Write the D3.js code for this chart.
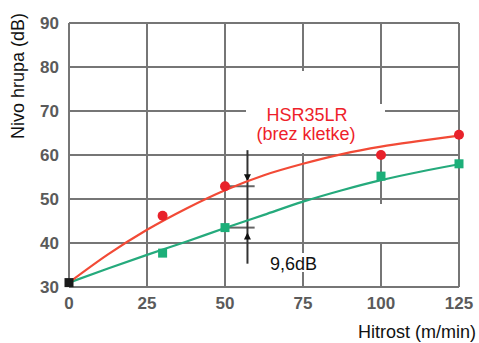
<!DOCTYPE html>
<html>
<head>
<meta charset="utf-8">
<script src="https://d3js.org/d3.v7.min.js"></script>
<style>
  body { margin: 0; background: #fff; }
  text { font-family: "Liberation Sans", Arial, sans-serif; }
</style>
</head>
<body>
<div id="chart"></div>
<script>

// data
var speedTicks = [0, 25, 50, 75, 100, 125];
var levelTicks = [30, 40, 50, 60, 70, 80, 90];

// measured points
var measX      = [30, 50, 100, 125];
var redMeasY   = [46.2, 52.9, 60.0, 64.6];
var greenMeasY = [37.7, 43.5, 55.2, 58.0];
var startPoint = [0, 31];

// fitted curves
var fitX     = [0, 12.5, 25, 37.5, 50, 62.5, 75, 87.5, 100, 112.5, 125];
var redFit   = [31, 37.4, 43.0, 47.8, 52.0, 55.4, 58.0, 60.2, 61.9, 63.2, 64.4];
var greenFit = [31, 34.2, 37.3, 40.3, 43.4, 46.4, 49.4, 52.0, 54.3, 56.2, 57.9];

var width = 479, height = 343;

var svg = d3.select("#chart")
  .append("svg")
    .attr("width", width)
    .attr("height", height);

var x = d3.scaleLinear().domain([0, 125]).range([69, 459]);
var y = d3.scaleLinear().domain([30, 90]).range([287, 23]);

var gridColor = "#767676";

// grid
svg.append("g").selectAll("line.h").data(levelTicks)
  .enter().append("line")
    .attr("x1", x(0)).attr("x2", x(125))
    .attr("y1", function(d) { return y(d); })
    .attr("y2", function(d) { return y(d); })
    .attr("stroke", gridColor).attr("stroke-width", 2);

svg.append("g").selectAll("line.v").data(speedTicks)
  .enter().append("line")
    .attr("x1", function(d) { return x(d); })
    .attr("x2", function(d) { return x(d); })
    .attr("y1", y(90)).attr("y2", y(30))
    .attr("stroke", gridColor).attr("stroke-width", 2);

// white patches behind the labels
svg.append("rect").attr("x", 246).attr("y", 71).attr("width", 134).attr("height", 82).attr("fill", "#fff");
svg.append("rect").attr("x", 379).attr("y", 104).attr("width", 6).attr("height", 49).attr("fill", "#fff");
svg.append("rect").attr("x", 379).attr("y", 204).attr("width", 6).attr("height", 38).attr("fill", "#fff");
svg.append("rect").attr("x", 299).attr("y", 253).attr("width", 10).attr("height", 19).attr("fill", "#fff");

// tick labels
svg.append("g").selectAll("text").data(levelTicks)
  .enter().append("text")
    .attr("x", 59)
    .attr("y", function(d) { return y(d); })
    .attr("dy", "0.35em")
    .attr("text-anchor", "end")
    .attr("font-size", "17px")
    .attr("font-weight", "bold")
    .attr("fill", "#5a5a5a")
    .text(function(d) { return d; });

svg.append("g").selectAll("text").data(speedTicks)
  .enter().append("text")
    .attr("x", function(d) { return x(d); })
    .attr("y", 309)
    .attr("text-anchor", "middle")
    .attr("font-size", "17px")
    .attr("font-weight", "bold")
    .attr("fill", "#5a5a5a")
    .text(function(d) { return d; });

// axis titles
svg.append("text")
  .attr("transform", "translate(24,76) rotate(-90)")
  .attr("text-anchor", "middle")
  .attr("font-size", "18px")
  .attr("fill", "#111")
  .text("Nivo hrupa (dB)");

svg.append("text")
  .attr("x", 476)
  .attr("y", 338)
  .attr("text-anchor", "end")
  .attr("font-size", "18px")
  .attr("fill", "#111")
  .text("Hitrost (m/min)");

// difference marker
var annX = 57.2;
svg.append("line")
  .attr("x1", x(50)).attr("x2", x(59.5))
  .attr("y1", y(redMeasY[1])).attr("y2", y(redMeasY[1]))
  .attr("stroke", "#666").attr("stroke-width", 2);
svg.append("line")
  .attr("x1", x(50)).attr("x2", x(59.5))
  .attr("y1", y(greenMeasY[1])).attr("y2", y(greenMeasY[1]))
  .attr("stroke", "#666").attr("stroke-width", 2);
svg.append("line")
  .attr("x1", x(annX)).attr("x2", x(annX))
  .attr("y1", y(61.1)).attr("y2", y(35.3))
  .attr("stroke", "#333").attr("stroke-width", 2);

var ax = x(annX);
var downTip = y(redMeasY[1]) - 5, upTip = y(greenMeasY[1]) + 5;
svg.append("path")
  .attr("d", "M" + (ax - 3.5) + "," + (downTip - 7) + "L" + (ax + 3.5) + "," + (downTip - 7) + "L" + ax + "," + downTip + "Z")
  .attr("fill", "#111");
svg.append("path")
  .attr("d", "M" + (ax - 3.5) + "," + (upTip + 7) + "L" + (ax + 3.5) + "," + (upTip + 7) + "L" + ax + "," + upTip + "Z")
  .attr("fill", "#111");

// fitted lines
var line = d3.line()
  .x(function(d) { return x(d[0]); })
  .y(function(d) { return y(d[1]); })
  .curve(d3.curveMonotoneX);

svg.append("path")
  .datum(d3.zip(fitX, greenFit))
  .attr("fill", "none")
  .attr("stroke", "#25aa7c")
  .attr("stroke-width", 2.2)
  .attr("d", line);

svg.append("path")
  .datum(d3.zip(fitX, redFit))
  .attr("fill", "none")
  .attr("stroke", "#f24a36")
  .attr("stroke-width", 2.2)
  .attr("d", line);

// measured points
svg.append("g").selectAll("rect").data(d3.zip(measX, greenMeasY))
  .enter().append("rect")
    .attr("x", function(d) { return x(d[0]) - 4.5; })
    .attr("y", function(d) { return y(d[1]) - 4.5; })
    .attr("width", 9).attr("height", 9)
    .attr("fill", "#1caf79");

svg.append("g").selectAll("circle").data(d3.zip(measX, redMeasY))
  .enter().append("circle")
    .attr("cx", function(d) { return x(d[0]); })
    .attr("cy", function(d) { return y(d[1]); })
    .attr("r", 5)
    .attr("fill", "#e8222b");

svg.append("rect")
  .attr("x", x(startPoint[0]) - 4.5)
  .attr("y", y(startPoint[1]) - 4.5)
  .attr("width", 9).attr("height", 9)
  .attr("fill", "#1a1a1a");

// labels
svg.append("text")
  .attr("x", 307).attr("y", 121)
  .attr("text-anchor", "middle")
  .attr("font-size", "18px")
  .attr("fill", "#ee1f2b")
  .text("HSR35LR");
svg.append("text")
  .attr("x", 306).attr("y", 140)
  .attr("text-anchor", "middle")
  .attr("font-size", "18px")
  .attr("fill", "#ee1f2b")
  .text("(brez kletke)");

svg.append("text")
  .attr("x", 270).attr("y", 270)
  .attr("font-size", "18px")
  .attr("fill", "#111")
  .text("9,6dB");

</script>
</body>
</html>
